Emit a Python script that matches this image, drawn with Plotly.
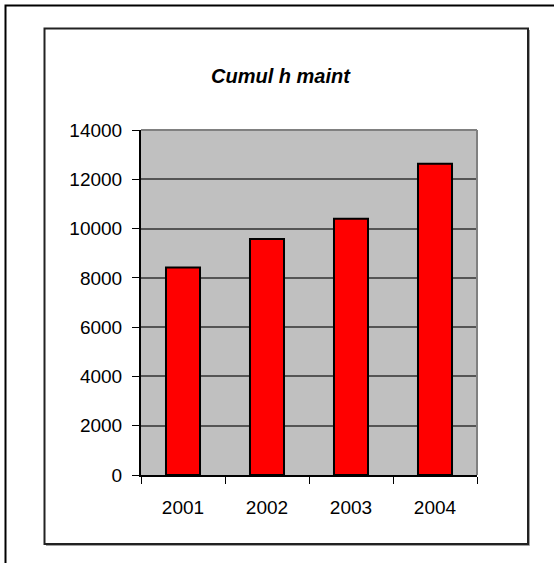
import plotly.graph_objects as go

years = ["2001", "2002", "2003", "2004"]
hours = [8420, 9580, 10400, 12630]
y_ticks = [0, 2000, 4000, 6000, 8000, 10000, 12000, 14000]

W, H = 554, 563
L, R, T, B = 141, 477, 130, 475  # plot area pixels


def px(x):
    return (x - L) / (R - L)


def py(y):
    return (B - y) / (B - T)


fig = go.Figure(go.Bar(
    x=years, y=hours,
    marker=dict(color="#FF0000", line=dict(color="#000000", width=2)),
))

shapes = [
    # outer frame (right/bottom beyond the page)
    dict(type="rect", xref="paper", yref="paper", x0=px(5.5), x1=px(600), y0=py(600), y1=py(5.5),
         line=dict(color="#000000", width=2), layer="below"),
    # chart area frame shadow (right/bottom)
    dict(type="line", xref="paper", yref="paper", x0=px(529.5), x1=px(529.5), y0=py(545.5), y1=py(30),
         line=dict(color="#A0A0A0", width=1), layer="below"),
    dict(type="line", xref="paper", yref="paper", x0=px(46), x1=px(529.5), y0=py(545.5), y1=py(545.5),
         line=dict(color="#A0A0A0", width=1), layer="below"),
    # chart area frame
    dict(type="rect", xref="paper", yref="paper", x0=px(44.5), x1=px(528), y0=py(544), y1=py(28.5),
         line=dict(color="#222222", width=2), layer="below"),
    # plot area top/right border
    dict(type="line", xref="paper", yref="paper", x0=0, x1=1, y0=1, y1=1,
         line=dict(color="#808080", width=2), layer="above"),
    dict(type="line", xref="paper", yref="paper", x0=1, x1=1, y0=0, y1=1,
         line=dict(color="#808080", width=2), layer="above"),
]

fig.update_layout(
    width=W, height=H,
    margin=dict(l=L, r=W - R, t=T, b=H - B),
    paper_bgcolor="white",
    plot_bgcolor="#C0C0C0",
    font=dict(family="Liberation Sans, Arial, sans-serif", size=19, color="#000000"),
    bargap=0.595,
    showlegend=False,
    shapes=shapes,
    annotations=[dict(
        text="<b><i>Cumul h maint</i></b>", xref="paper", yref="paper",
        x=px(281), y=py(76), xanchor="center", yanchor="middle",
        showarrow=False, font=dict(size=20, color="#000000"),
    )],
)

fig.update_xaxes(
    type="category", showline=True, linecolor="#000000", linewidth=2,
    ticks="outside", tickson="boundaries", ticklen=7, tickwidth=1, tickcolor="#000000",
    showgrid=False, ticklabelstandoff=14,
)
fig.update_yaxes(
    range=[0, 14000], tickvals=y_ticks, ticktext=[str(v) for v in y_ticks],
    showline=True, linecolor="#000000", linewidth=2,
    ticks="outside", ticklen=7, tickwidth=1, tickcolor="#000000",
    showgrid=True, gridcolor="#555555", gridwidth=1.5, zeroline=False,
    ticklabelstandoff=6,
)

fig.write_html("out.html")
